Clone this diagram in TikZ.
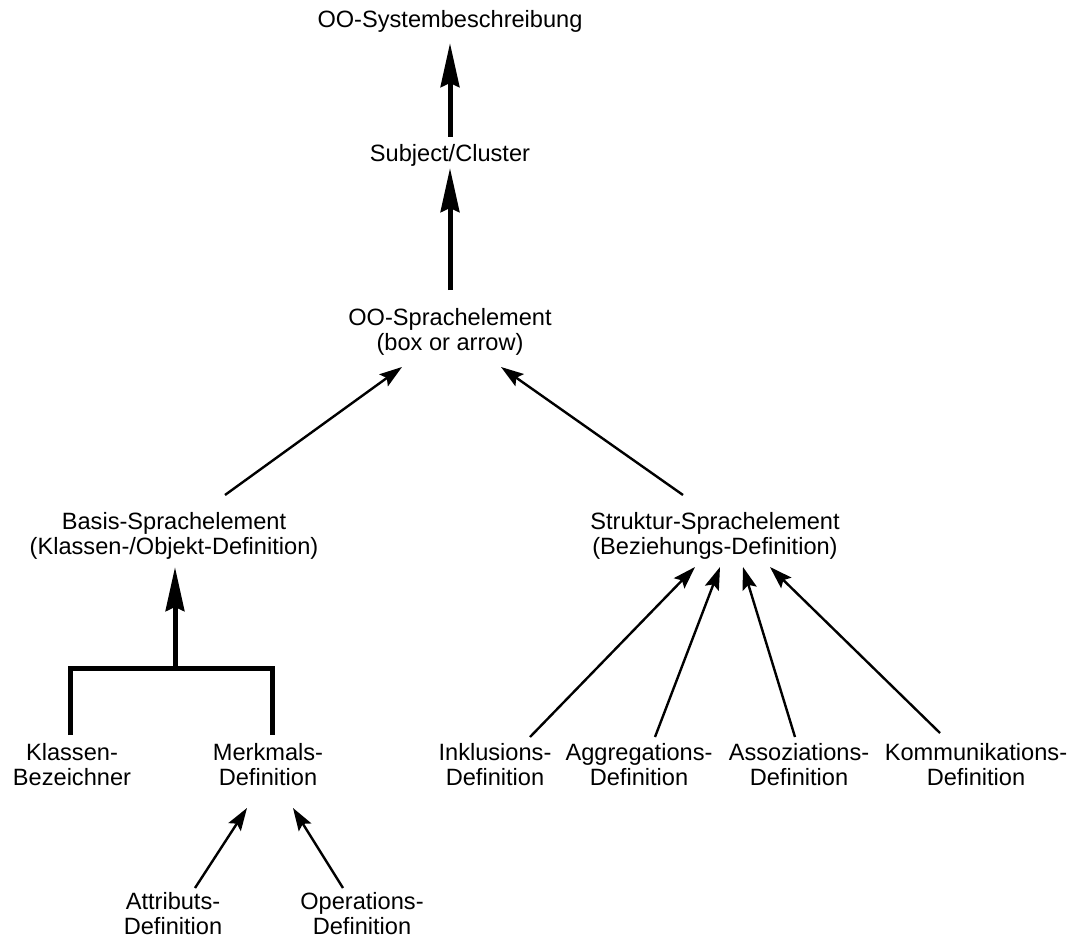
\documentclass[tikz,border=0pt]{standalone}
\usepackage{fontspec}
\setmainfont{Liberation Sans}
\usetikzlibrary{arrows.meta,calc}
\begin{document}
\begin{tikzpicture}[x=0.75pt,y=-0.75pt,
  lbl/.style={inner sep=0pt, align=center, font=\fontsize{17.7pt}{17.6pt}\selectfont},
  thickarrow/.style={line width=3.75pt, -{Stealth[length=33pt,width=14pt,inset=3pt]}},
  thinarrow/.style={line width=1.8pt, -{Stealth[length=17pt,width=11pt,inset=3pt]}},
  bracket/.style={line width=3.75pt, line join=miter}]
\useasboundingbox (0,0) rectangle (1082,945);

\node[lbl] (sys)   at (450,22.5) {\strut OO-Systembeschreibung};
\node[lbl] (subj)  at (450,156)  {\strut Subject/Cluster};
\node[lbl] (oo)    at (450,333)  {\strut OO-Sprachelement\\\strut (box or arrow)};
\node[lbl] (basis) at (174,537)  {\strut Basis-Sprachelement\\\strut (Klassen-/Objekt-Definition)};
\node[lbl] (struk) at (715,537)  {\strut Struktur-Sprachelement\\\strut (Beziehungs-Definition)};
\node[lbl] (klas)  at (72,768)   {\strut Klassen-\\\strut Bezeichner};
\node[lbl] (merk)  at (268,768)  {\strut Merkmals-\\\strut Definition};
\node[lbl] (inkl)  at (495,768)  {\strut Inklusions-\\\strut Definition};
\node[lbl] (aggr)  at (639,768)  {\strut Aggregations-\\\strut Definition};
\node[lbl] (asso)  at (799,768)  {\strut Assoziations-\\\strut Definition};
\node[lbl] (komm)  at (976,768)  {\strut Kommunikations-\\\strut Definition};
\node[lbl] (attr)  at (173,917)  {\strut Attributs-\\\strut Definition};
\node[lbl] (oper)  at (362,917)  {\strut Operations-\\\strut Definition};

% thick arrows
\draw[thickarrow] ($(subj)+(0,-19)$) -- ($(sys)+(0,20.5)$);
\draw[thickarrow] ($(oo)+(0,-43)$) -- ($(subj)+(0,12)$);
\coordinate (junc) at (175,668);
\draw[bracket] ($(klas)+(-2,-33)$) |- (junc) -| ($(merk)+(4,-33)$);
\draw[thickarrow] (junc) -- ($(basis)+(1,30)$);

% thin arrows
\draw[thinarrow] ($(basis)+(51,-42)$) -- ($(oo)+(-48,34)$);
\draw[thinarrow] ($(struk)+(-32,-42)$) -- ($(oo)+(51,34)$);
\draw[thinarrow] ($(inkl)+(35,-31)$) -- ($(struk)+(-20,30)$);
\draw[thinarrow] ($(aggr)+(16,-31)$) -- ($(struk)+(5,30)$);
\draw[thinarrow] ($(asso)+(-4,-31)$) -- ($(struk)+(28,30)$);
\draw[thinarrow] ($(komm)+(-36,-35)$) -- ($(struk)+(55,30)$);
\draw[thinarrow] ($(attr)+(22,-29)$) -- ($(merk)+(-21,40)$);
\draw[thinarrow] ($(oper)+(-19,-29)$) -- ($(merk)+(25,40)$);
\end{tikzpicture}
\end{document}
